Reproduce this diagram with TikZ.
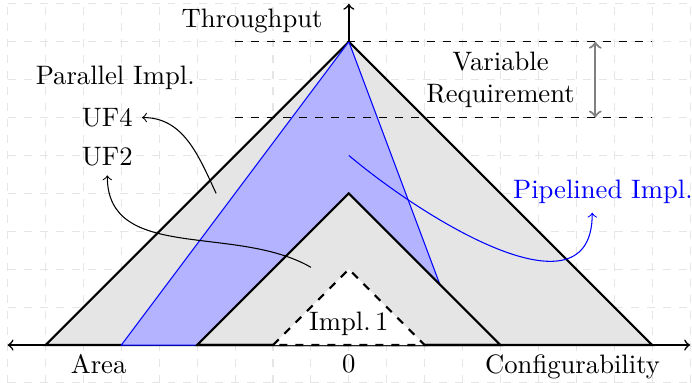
\documentclass[tikz,border=0pt]{standalone}
\usepackage{amssymb, amsmath}
\usepackage{color}
\usepackage{tikz}
\definecolor{shade}{gray}{0.9}
\definecolor{pipefill}{RGB}{179, 179, 255}

\begin{document}
\begin{tikzpicture}[
   x=0.5cm, y=0.5cm,
   region/.style={draw=black, fill=shade, thick},
   border/.style={draw=black, thick},
   pipeline/.style={draw=blue, fill=pipefill},
   hole/.style={draw=black, fill=white, thick, dashed},
   guide/.style={dashed, black},
   axis/.style={->, semithick},
   pointer/.style={->}
  ]

  \useasboundingbox (-9.2, -1) rectangle (9.05, 9.1);

  % Grid
  \draw[gray!20, dashed, step=0.5cm] (-9, -1) grid (9, 9);

  % Axes
  \coordinate (O) at (0, 0);
  \coordinate (XL) at (-9, 0);
  \coordinate (XR) at (9, 0);
  \coordinate (YT) at (0, 9);
  \draw[axis] (O) -- (XL);
  \draw[axis] (O) -- (XR);
  \draw[axis] (O) -- (YT);

  % Regions
  \draw[region] (-8, 0) -- (0, 8) -- (8, 0) -- cycle;
  \draw[pipeline] (-6, 0) -- (0, 8) -- (2.4, 1.6) -- (0, 4) -- (-4, 0) -- cycle;
  \draw[border] (-4, 0) -- (0, 4) -- (4, 0) -- cycle;
  \draw[hole] (-2, 0) -- (0, 2) -- (2, 0) -- cycle;

  % Requirement band
  \draw[guide] (-3, 8) -- (8, 8);
  \draw[guide] (-3, 6) -- (8, 6);
  \coordinate (R1) at (6.5, 8);
  \coordinate (R2) at (6.5, 6);
  \draw[<->, gray, thick] (R1) -- (R2);

  % Labels
  \node (Ylab) at (-2.55, 8.55) {Throughput};
  \node (Area) [below] at (-6.6, 0) {Area};
  \node (Zero) [below] at (0, 0) {0};
  \node (Conf) [below] at (5.9, 0) {Configurability};
  \node (Req) at (4, 7) [align=center] {Variable\\Requirement};
  \node (Impl) [above] at (0, 0) {Impl.\,1};
  \node (Par) at (-6.16, 7.05) {Parallel Impl.};
  \node (UF4) at (-6.37, 6) {UF4};
  \node (UF2) at (-6.37, 4.97) {UF2};
  \node (Pipe) at (6.7, 4.05) [text=blue] {Pipelined Impl.};

  \coordinate (S4) at (-3.5, 4);
  \coordinate (S2) at (-1, 2.05);
  \coordinate (SP) at (0, 5);

  \draw[pointer] (S4) to[out=115, in=0] (UF4);
  \draw[pointer] (S2) to[out=150, in=-90] (UF2);
  \draw[pointer, blue] (SP) to[out=-40, in=-90, looseness=1.1] ([xshift=-4pt]Pipe.south);

\end{tikzpicture}
\end{document}
